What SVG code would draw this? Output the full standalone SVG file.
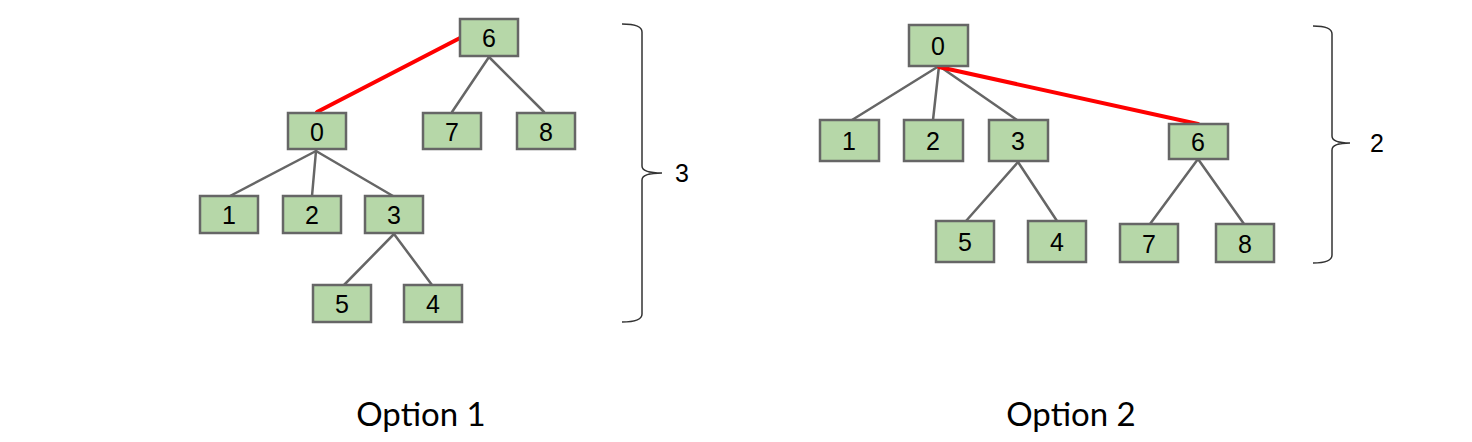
<svg xmlns="http://www.w3.org/2000/svg" width="1472" height="442" viewBox="0 0 1472 442">
<style>
.n rect{fill:#b6d7a8;stroke:#666666;stroke-width:2.5}
.n text{font-family:"Liberation Sans",Arial,sans-serif;font-size:25px;fill:#000;text-anchor:middle}
.e line{stroke:#666666;stroke-width:2.5;stroke-linecap:round}
.e line.r{stroke:#ff0000;stroke-width:4}
.br{fill:none;stroke:#333333;stroke-width:1.5}
.lbl{font-family:"Liberation Sans",Arial,sans-serif;font-size:25px;fill:#000}
.cap{font-family:Lato,"Open Sans",sans-serif;font-size:33px;fill:#000;text-anchor:middle}
</style>
<rect width="1472" height="442" fill="#ffffff"/>
<g id="connectors" class="e">
<line class="r" x1="460" y1="38" x2="317" y2="112"/>
<line x1="489" y1="57" x2="452" y2="112"/>
<line x1="489" y1="57" x2="544" y2="112"/>
<line x1="316" y1="151" x2="230" y2="196"/>
<line x1="316" y1="151" x2="312" y2="196"/>
<line x1="316" y1="151" x2="393" y2="196"/>
<line x1="394" y1="234" x2="344" y2="285"/>
<line x1="394" y1="234" x2="432" y2="285"/>
<line x1="939" y1="66" x2="852" y2="120"/>
<line x1="939" y1="66" x2="933" y2="120"/>
<line x1="939" y1="66" x2="1017" y2="120"/>
<line x1="1018" y1="162" x2="966" y2="221"/>
<line x1="1018" y1="162" x2="1057" y2="221"/>
<line x1="1198" y1="159" x2="1150" y2="224"/>
<line x1="1198" y1="159" x2="1244" y2="224"/>
<line class="r" x1="939" y1="67" x2="1198" y2="124"/>
</g>
<g id="o1-n6" class="n"><rect x="460" y="19" width="58" height="37"/><text x="489" y="47">6</text></g>
<g id="o1-n0" class="n"><rect x="288" y="113" width="58" height="36"/><text x="317" y="141">0</text></g>
<g id="o1-n7" class="n"><rect x="423" y="113" width="58" height="36"/><text x="452" y="141">7</text></g>
<g id="o1-n8" class="n"><rect x="517" y="113" width="58" height="36"/><text x="546" y="141">8</text></g>
<g id="o1-n1" class="n"><rect x="200" y="196" width="58" height="37"/><text x="229" y="224">1</text></g>
<g id="o1-n2" class="n"><rect x="283" y="196" width="58" height="37"/><text x="312" y="224">2</text></g>
<g id="o1-n3" class="n"><rect x="365" y="196" width="58" height="37"/><text x="394" y="224">3</text></g>
<g id="o1-n5" class="n"><rect x="313" y="285" width="58" height="37"/><text x="342" y="313">5</text></g>
<g id="o1-n4" class="n"><rect x="404" y="285" width="58" height="37"/><text x="433" y="313">4</text></g>
<g id="o1-brace"><path class="br" d="M622,24 Q642,24 642,32 L642,166 Q642,173 662,173 Q642,173 642,180 L642,314 Q642,322 622,322"/><text class="lbl" x="675" y="182">3</text></g>
<g id="o2-n0" class="n"><rect x="909" y="25" width="59" height="41"/><text x="938" y="55">0</text></g>
<g id="o2-n1" class="n"><rect x="820" y="120" width="59" height="41"/><text x="849" y="150">1</text></g>
<g id="o2-n2" class="n"><rect x="904" y="120" width="59" height="41"/><text x="933" y="150">2</text></g>
<g id="o2-n3" class="n"><rect x="989" y="120" width="59" height="41"/><text x="1018" y="150">3</text></g>
<g id="o2-n6" class="n"><rect x="1169" y="124" width="59" height="35"/><text x="1198" y="151">6</text></g>
<g id="o2-n5" class="n"><rect x="936" y="221" width="58" height="41"/><text x="965" y="251">5</text></g>
<g id="o2-n4" class="n"><rect x="1028" y="221" width="58" height="41"/><text x="1057" y="251">4</text></g>
<g id="o2-n7" class="n"><rect x="1120" y="224" width="58" height="38"/><text x="1149" y="253">7</text></g>
<g id="o2-n8" class="n"><rect x="1216" y="224" width="58" height="38"/><text x="1245" y="253">8</text></g>
<g id="o2-brace"><path class="br" d="M1313,26 Q1332,26 1332,34 L1332,136 Q1332,143 1350,143 Q1332,143 1332,150 L1332,255 Q1332,263 1313,263"/><text class="lbl" x="1370" y="152">2</text></g>
<text class="cap" x="421" y="426">Option 1</text>
<text class="cap" x="1071" y="426">Option 2</text>
</svg>
